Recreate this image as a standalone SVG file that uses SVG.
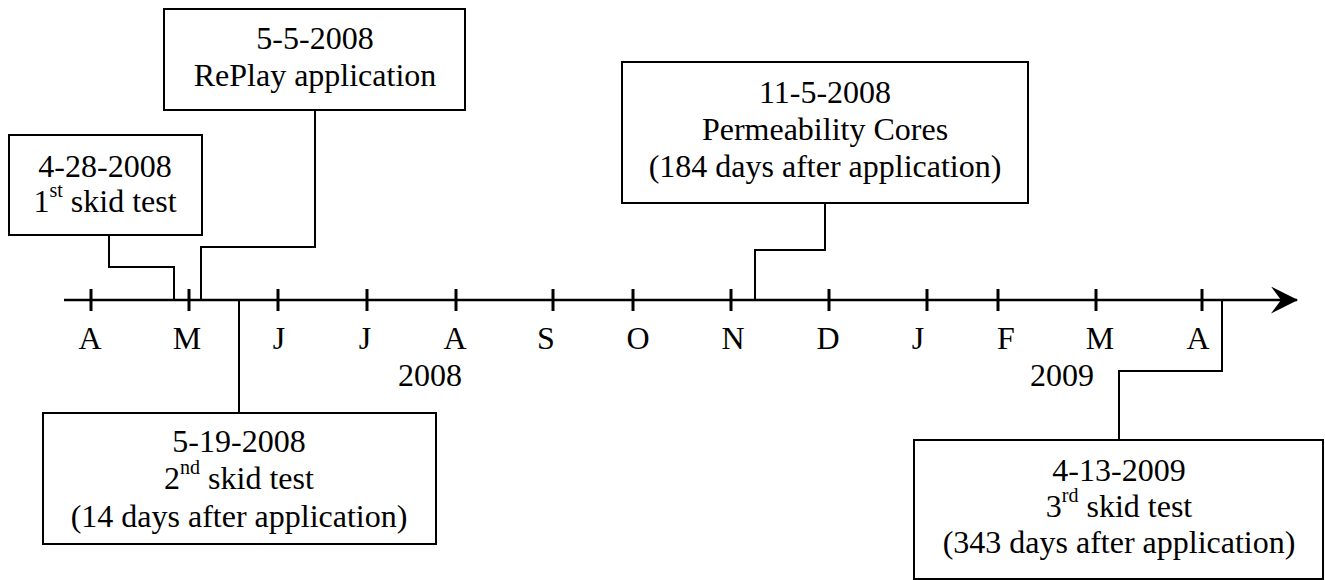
<svg xmlns="http://www.w3.org/2000/svg" width="1325" height="580" viewBox="0 0 1325 580">
  <style>
    text { font-family: "Liberation Serif", "Times New Roman", serif; font-size: 32px; fill: #000; text-anchor: middle; }
    .sup { font-size: 20px; }
    .box { fill: #fff; stroke: #000; stroke-width: 2; }
    .conn { fill: none; stroke: #000; stroke-width: 2; }
    .tick { stroke: #000; stroke-width: 3; }
    .axis { stroke: #000; stroke-width: 2.5; }
  </style>
  <defs>
    <marker id="arrow" viewBox="0 0 27 27" refX="26" refY="13.5" markerWidth="27" markerHeight="27" markerUnits="userSpaceOnUse" orient="auto">
      <path d="M0,0 L27,13.5 L0,27 L10,13.5 Z" fill="#000"/>
    </marker>
  </defs>

  <rect width="1325" height="580" fill="#fff"/>

  <!-- time axis -->
  <g id="axis">
    <line class="axis" x1="64" y1="300" x2="1297" y2="300" marker-end="url(#arrow)"/>
    <g class="ticks">
      <line class="tick" x1="91" y1="289" x2="91" y2="311"/>
      <line class="tick" x1="189" y1="289" x2="189" y2="311"/>
      <line class="tick" x1="278" y1="289" x2="278" y2="311"/>
      <line class="tick" x1="367" y1="289" x2="367" y2="311"/>
      <line class="tick" x1="456" y1="289" x2="456" y2="311"/>
      <line class="tick" x1="553" y1="289" x2="553" y2="311"/>
      <line class="tick" x1="633" y1="289" x2="633" y2="311"/>
      <line class="tick" x1="731" y1="289" x2="731" y2="311"/>
      <line class="tick" x1="829" y1="289" x2="829" y2="311"/>
      <line class="tick" x1="927" y1="289" x2="927" y2="311"/>
      <line class="tick" x1="998" y1="289" x2="998" y2="311"/>
      <line class="tick" x1="1096" y1="289" x2="1096" y2="311"/>
      <line class="tick" x1="1202" y1="289" x2="1202" y2="311"/>
    </g>
    <g class="months">
      <text x="90" y="349">A</text>
      <text x="187" y="349">M</text>
      <text x="279" y="349">J</text>
      <text x="365" y="349">J</text>
      <text x="455" y="349">A</text>
      <text x="546" y="349">S</text>
      <text x="638" y="349">O</text>
      <text x="733" y="349">N</text>
      <text x="828" y="349">D</text>
      <text x="918" y="349">J</text>
      <text x="1006" y="349">F</text>
      <text x="1100" y="349">M</text>
      <text x="1198" y="349">A</text>
    </g>
    <text x="430" y="386">2008</text>
    <text x="1062" y="386">2009</text>
  </g>

  <!-- leader lines from events to boxes -->
  <g id="connectors">
    <polyline class="conn" points="109,235 109,267 174,267 174,300"/>
    <polyline class="conn" points="315,110 315,247 201,247 201,300"/>
    <polyline class="conn" points="239,300 239,413"/>
    <polyline class="conn" points="825,203 825,250 755,250 755,300"/>
    <polyline class="conn" points="1222,300 1222,371 1119,371 1119,440"/>
  </g>

  <g id="skid-test-1">
    <rect class="box" x="9" y="135" width="193" height="100"/>
    <text x="105" y="177">4-28-2008</text>
    <text x="105" y="212">1<tspan class="sup" dy="-15">st</tspan><tspan dy="15"> skid test</tspan></text>
  </g>

  <g id="replay-application">
    <rect class="box" x="164" y="9" width="301" height="101"/>
    <text x="315" y="49">5-5-2008</text>
    <text x="315" y="86">RePlay application</text>
  </g>

  <g id="skid-test-2">
    <rect class="box" x="43" y="413" width="393" height="131"/>
    <text x="239" y="452">5-19-2008</text>
    <text x="239" y="489">2<tspan class="sup" dy="-15">nd</tspan><tspan dy="15"> skid test</tspan></text>
    <text x="239" y="527">(14 days after application)</text>
  </g>

  <g id="permeability-cores">
    <rect class="box" x="622" y="62" width="406" height="141"/>
    <text x="825" y="103">11-5-2008</text>
    <text x="825" y="140">Permeability Cores</text>
    <text x="825" y="177">(184 days after application)</text>
  </g>

  <g id="skid-test-3">
    <rect class="box" x="914" y="440" width="409" height="139"/>
    <text x="1119" y="481">4-13-2009</text>
    <text x="1119" y="517">3<tspan class="sup" dy="-15">rd</tspan><tspan dy="15"> skid test</tspan></text>
    <text x="1119" y="553">(343 days after application)</text>
  </g>
</svg>
